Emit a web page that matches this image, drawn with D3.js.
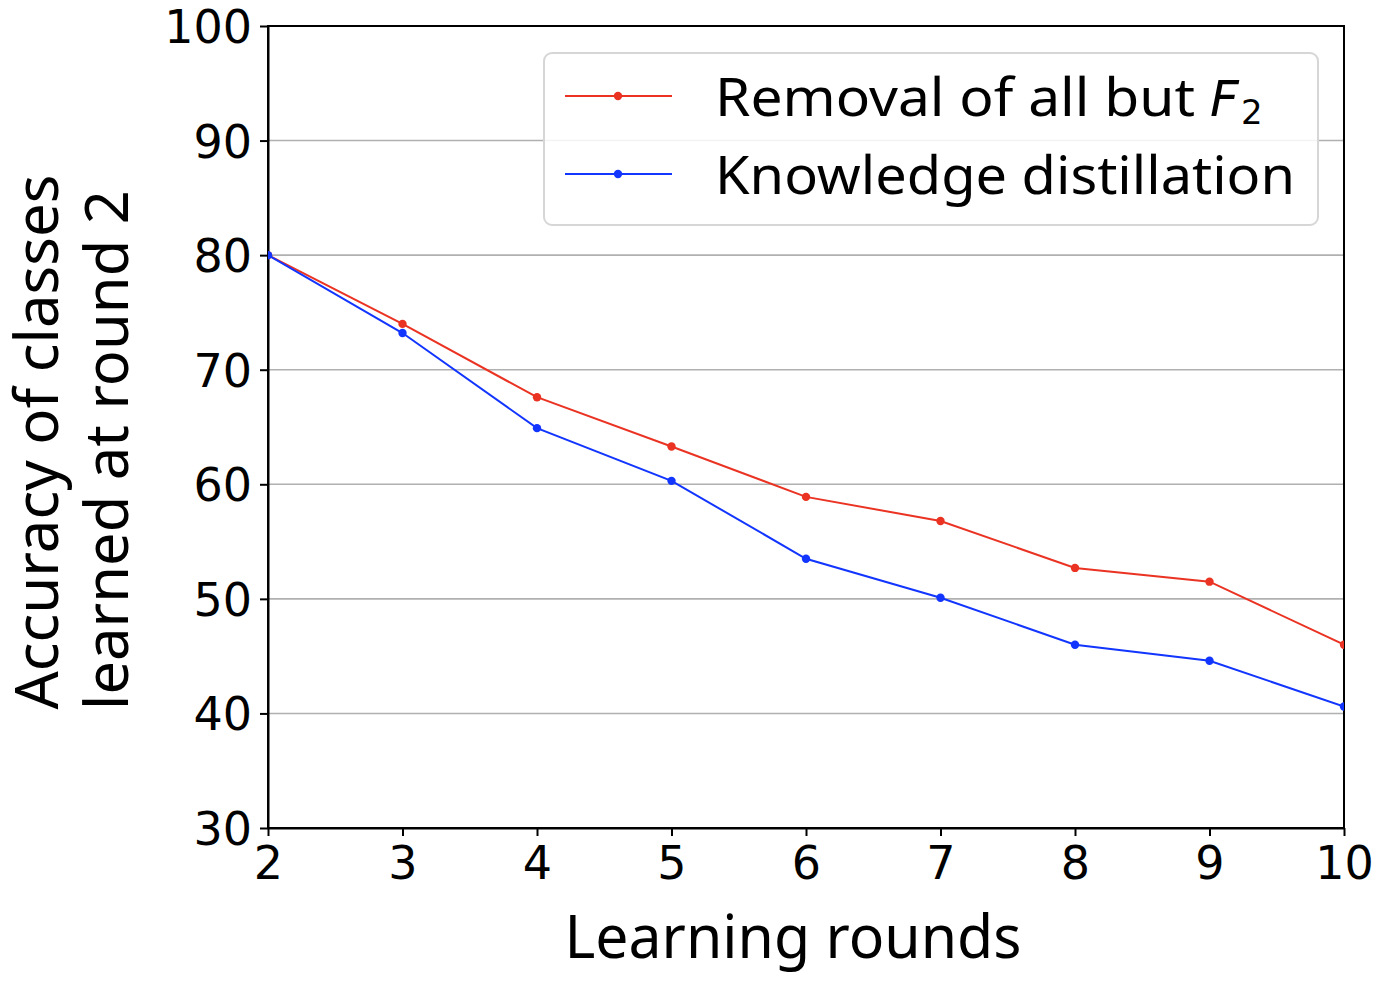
<!DOCTYPE html>
<html><head><meta charset="utf-8">
<script src="https://cdn.jsdelivr.net/npm/d3@7"></script>
<style>body{margin:0;background:#fff}</style>
</head><body>
<svg id="c" width="1378" height="984"></svg>
<script>
const rounds = [2,3,4,5,6,7,8,9,10];
const removalAcc = [80.0,74.0,67.6,63.3,58.9,56.8,52.7,51.5,46.0];
const kdAcc = [80.0,73.2,64.9,60.3,53.5,50.1,46.0,44.6,40.6];
const yTicks = [30,40,50,60,70,80,90,100];
const seriesNames = ["Removal of all but", "Knowledge distillation"];
const colors = ["#ea3323", "#1235ff"];

const svg = d3.select("#c");
const L=268,R=1344,T=26,B=828;
const x = d3.scaleLinear().domain([2,10]).range([L,R]);
const y = d3.scaleLinear().domain([30,100]).range([B,T]);

svg.append("defs").append("clipPath").attr("id","clip")
  .append("rect").attr("x",L).attr("y",T).attr("width",R-L).attr("height",B-T);

// gridlines
svg.append("g").selectAll("line").data(yTicks).join("line")
  .attr("x1",L).attr("x2",R).attr("y1",d=>y(d)).attr("y2",d=>y(d))
  .attr("stroke","#b0b0b0").attr("stroke-width",1.6);

// frame
svg.append("rect").attr("x",L).attr("y",T).attr("width",R-L).attr("height",B-T)
  .attr("fill","none").attr("stroke","#000").attr("stroke-width",2);

// axes
const xAxis = svg.append("g").attr("transform",`translate(0,${B})`)
  .call(d3.axisBottom(x).tickValues(rounds).tickFormat(d3.format("d")).tickSize(8).tickSizeOuter(0));
const yAxis = svg.append("g").attr("transform",`translate(${L},0)`)
  .call(d3.axisLeft(y).tickValues(yTicks).tickSize(8).tickSizeOuter(0));
[xAxis,yAxis].forEach(a=>{
  a.select(".domain").attr("stroke","#000").attr("stroke-width",2);
  a.selectAll(".tick line").attr("stroke","#000").attr("stroke-width",2);
  a.selectAll("text").attr("font-family","DejaVu Sans").attr("font-size",46).attr("fill","#000");
});
xAxis.selectAll("text").attr("dy","0.71em").attr("y",18);
yAxis.selectAll("text").attr("x",-16).attr("dy","0.36em");

// lines
const data = [removalAcc, kdAcc];
const line = d3.line().x((d,i)=>x(rounds[i])).y(d=>y(d));
const plot = svg.append("g").attr("clip-path","url(#clip)");
data.forEach((s,k)=>{
  plot.append("path").datum(s).attr("d",line).attr("fill","none")
    .attr("stroke",colors[k]).attr("stroke-width",2);
  plot.selectAll(null).data(s).join("circle")
    .attr("cx",(d,i)=>x(rounds[i])).attr("cy",d=>y(d)).attr("r",4.2).attr("fill",colors[k]);
});

// legend
const lg = svg.append("g");
lg.append("rect").attr("x",544).attr("y",53).attr("width",774).attr("height",172)
  .attr("rx",8).attr("fill","#fff").attr("fill-opacity",0.85).attr("stroke","#d6d6d6").attr("stroke-width",2);
const rowY=[96,174];
rowY.forEach((ry,k)=>{
  lg.append("line").attr("x1",565).attr("x2",672).attr("y1",ry).attr("y2",ry)
    .attr("stroke",colors[k]).attr("stroke-width",2);
  lg.append("circle").attr("cx",618).attr("cy",ry).attr("r",4.2).attr("fill",colors[k]);
});
lg.append("text").attr("x",715).attr("y",116).attr("font-family","Noto Sans").attr("font-size",52)
  .attr("textLength",480).attr("lengthAdjust","spacingAndGlyphs").text(seriesNames[0]);
lg.append("text").attr("x",1210).attr("y",116).attr("font-family","DejaVu Sans").attr("font-style","italic")
  .attr("font-size",50).text("F");
lg.append("text").attr("x",1241).attr("y",124).attr("font-family","DejaVu Sans")
  .attr("font-size",34).text("2");
lg.append("text").attr("x",715).attr("y",194).attr("font-family","Noto Sans").attr("font-size",52)
  .attr("textLength",580).attr("lengthAdjust","spacingAndGlyphs").text(seriesNames[1]);

// axis labels
svg.append("text").attr("x",793).attr("y",958).attr("text-anchor","middle")
  .attr("font-family","Noto Sans").attr("font-size",60)
  .attr("textLength",457).attr("lengthAdjust","spacingAndGlyphs").text("Learning rounds");
svg.append("text").attr("transform","translate(58,442) rotate(-90)").attr("text-anchor","middle")
  .attr("font-family","Noto Sans").attr("font-size",60)
  .attr("textLength",535).attr("lengthAdjust","spacingAndGlyphs").text("Accuracy of classes");
svg.append("text").attr("transform","translate(128,450) rotate(-90)").attr("text-anchor","middle")
  .attr("font-family","Noto Sans").attr("font-size",60)
  .attr("textLength",520).attr("lengthAdjust","spacingAndGlyphs").text("learned at round 2");
</script>
</body></html>
